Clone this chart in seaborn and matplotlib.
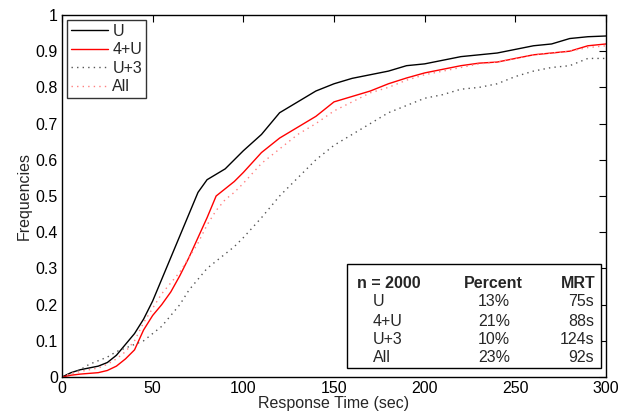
import numpy as np
import pandas as pd
import matplotlib
matplotlib.use("Agg")
import matplotlib.pyplot as plt
import seaborn as sns
from matplotlib.patches import Rectangle
from matplotlib.lines import Line2D

# ---- data ----
time_sec = [0, 5, 10, 15, 20, 25, 30, 35, 40, 45, 50, 55, 60, 65, 70, 75, 80, 85, 90, 95,
            100, 110, 120, 130, 140, 150, 160, 170, 180, 190, 200, 210, 220, 230, 240,
            250, 260, 270, 280, 290, 300]

freq_U = [0, 0.012, 0.02, 0.025, 0.03, 0.04, 0.06, 0.09, 0.12, 0.16, 0.21, 0.27, 0.33, 0.39,
          0.45, 0.51, 0.545, 0.56, 0.575, 0.60, 0.625, 0.67, 0.73, 0.76, 0.79, 0.81, 0.825,
          0.835, 0.845, 0.86, 0.865, 0.875, 0.885, 0.89, 0.895, 0.905, 0.915, 0.92, 0.935,
          0.94, 0.942]
freq_4U = [0, 0.005, 0.008, 0.01, 0.012, 0.018, 0.03, 0.05, 0.075, 0.13, 0.17, 0.20, 0.235,
           0.28, 0.33, 0.385, 0.44, 0.50, 0.52, 0.54, 0.565, 0.62, 0.66, 0.69, 0.72, 0.76,
           0.775, 0.79, 0.81, 0.826, 0.84, 0.85, 0.86, 0.867, 0.87, 0.88, 0.89, 0.895, 0.90,
           0.915, 0.92]
freq_U3 = [0, 0.01, 0.02, 0.035, 0.045, 0.055, 0.07, 0.08, 0.09, 0.10, 0.12, 0.14, 0.17, 0.20,
           0.24, 0.27, 0.30, 0.32, 0.34, 0.36, 0.385, 0.44, 0.50, 0.55, 0.60, 0.64, 0.67, 0.70,
           0.73, 0.75, 0.77, 0.78, 0.795, 0.80, 0.81, 0.83, 0.845, 0.855, 0.86, 0.88, 0.88]
freq_All = [0, 0.01, 0.015, 0.02, 0.025, 0.035, 0.05, 0.07, 0.10, 0.15, 0.19, 0.23, 0.26, 0.29,
            0.33, 0.37, 0.42, 0.46, 0.49, 0.51, 0.535, 0.59, 0.63, 0.67, 0.70, 0.735, 0.76,
            0.785, 0.80, 0.82, 0.835, 0.845, 0.855, 0.865, 0.87, 0.88, 0.89, 0.895, 0.90,
            0.91, 0.915]

series_names = ["U", "4+U", "U+3", "All"]
table_percent = ["13%", "21%", "10%", "23%"]
table_mrt = ["75s", "88s", "124s", "92s"]
n_total = 2000

x_ticks = [0, 50, 100, 150, 200, 250, 300]
y_ticks = [0, 0.1, 0.2, 0.3, 0.4, 0.5, 0.6, 0.7, 0.8, 0.9, 1]

# ---- styling ----
FS = 11.5
sns.set_style("white")
plt.rcParams["font.family"] = ["Liberation Sans", "DejaVu Sans"]
plt.rcParams["font.size"] = FS

styles = {
    "U": dict(color="black", ls="-", lw=1.0),
    "4+U": dict(color="#ff0000", ls="-", lw=1.0),
    "U+3": dict(color="#555555", ls=(0, (1, 3)), lw=1.0),
    "All": dict(color="#ff8080", ls=(0, (1, 3)), lw=1.0),
}

df = pd.DataFrame({
    "time": time_sec * 4,
    "freq": freq_U + freq_4U + freq_U3 + freq_All,
    "series": sum([[s] * len(time_sec) for s in series_names], []),
})

fig = plt.figure(figsize=(6.28, 4.2), dpi=100)
ax = fig.add_axes([62 / 628, 1 - 377 / 420, 544 / 628, 362 / 420])

for s in series_names:
    st = styles[s]
    sns.lineplot(data=df[df.series == s], x="time", y="freq", ax=ax,
                 color=st["color"], linestyle=st["ls"], linewidth=st["lw"],
                 estimator=None, legend=False)

ax.set_xlim(0, 300)
ax.set_ylim(0, 1)
ax.set_xticks(x_ticks)
ax.set_xticklabels([str(t) for t in x_ticks])
ax.set_yticks(y_ticks)
ax.set_yticklabels(["0" if t == 0 else ("1" if t == 1 else f"{t:g}") for t in y_ticks])
ax.tick_params(direction="in", top=True, right=True, length=5, width=0.8,
               labelsize=FS, colors="black", pad=3)
for sp in ax.spines.values():
    sp.set_visible(True)
    sp.set_color("black")
    sp.set_linewidth(1.0)
ax.set_xlabel("Response Time (sec)", fontsize=FS, labelpad=0)
ax.set_ylabel("Frequencies", fontsize=FS, labelpad=3)

handles = [Line2D([0], [0], color=styles[s]["color"], linestyle=styles[s]["ls"],
                  linewidth=styles[s]["lw"]) for s in series_names]
leg = ax.legend(handles, series_names, loc="upper left", fontsize=FS,
                frameon=True, fancybox=False, edgecolor="black",
                borderaxespad=0.3, borderpad=0.25, handlelength=2.3,
                handletextpad=0.3, labelspacing=0.22)
leg.get_frame().set_linewidth(1.0)

# summary table box
x0 = (347 - 62) / 544
x1 = (601 - 62) / 544
y0 = (377 - 368) / 362
y1 = (377 - 264) / 362
ax.add_patch(Rectangle((x0, y0), x1 - x0, y1 - y0, transform=ax.transAxes,
                       facecolor="white", edgecolor="black", linewidth=1.0, zorder=5))

def yf(px):
    return (377 - px) / 362

def xf(px):
    return (px - 62) / 544

ax.text(xf(357), yf(283), f"n = {n_total}", transform=ax.transAxes, ha="left",
        va="center", fontweight="bold", zorder=6)
ax.text(xf(493), yf(283), "Percent", transform=ax.transAxes, ha="center",
        va="center", fontweight="bold", zorder=6)
ax.text(xf(595), yf(283), "MRT", transform=ax.transAxes, ha="right",
        va="center", fontweight="bold", zorder=6)
row_y = [302, 321, 340, 358]
for name, pct, mrt, ry in zip(series_names, table_percent, table_mrt, row_y):
    ax.text(xf(373), yf(ry), name, transform=ax.transAxes, ha="left", va="center", zorder=6)
    ax.text(xf(494), yf(ry), pct, transform=ax.transAxes, ha="center", va="center", zorder=6)
    ax.text(xf(594), yf(ry), mrt, transform=ax.transAxes, ha="right", va="center", zorder=6)

fig.savefig("out.png", dpi=100)
